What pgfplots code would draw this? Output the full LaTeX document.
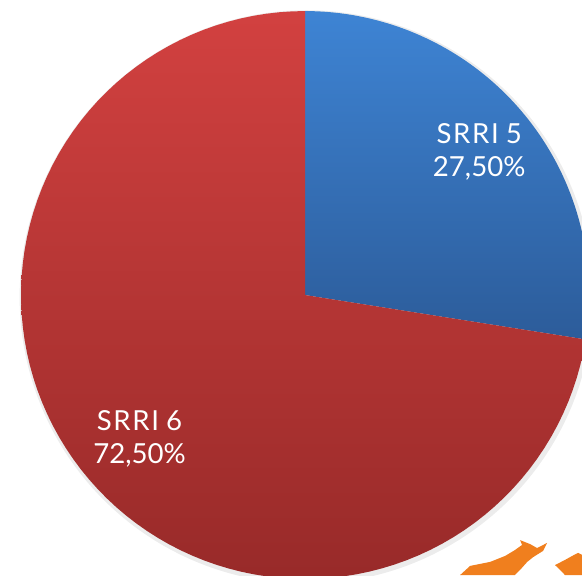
\documentclass[border=0pt]{standalone}
\usepackage{pgfplots}
\pgfplotsset{compat=1.18}
\usepackage{fontspec}
\setmainfont{Lato}
\definecolor{blueT}{HTML}{3E84D4}
\definecolor{blueB}{HTML}{2C5C9A}
\definecolor{redT}{HTML}{D24140}
\definecolor{redB}{HTML}{982A29}
\definecolor{bullOrange}{HTML}{F07F1E}
% pie values (percent)
\def\pA{27.5}% SRRI 5
\def\pB{72.5}% SRRI 6
\begin{document}
\begin{tikzpicture}
\begin{axis}[hide axis, scale only axis, width=291pt, height=287.5pt,
  xmin=-1.074, xmax=0.975, ymin=-0.986, ymax=1.039, clip=true]
% soft shadow
\addplot[fill=black!30, draw=none, opacity=0.25, samples at={0,2,...,360}]
  ({1.010*cos(x)+0.005},{1.010*sin(x)-0.007});
% SRRI 5 wedge
\addplot[draw=none, top color=blueT, bottom color=blueB, samples at={0,1,...,101}]
  ({(x<=100)*cos(90-3.6*\pA*x/100)},{(x<=100)*sin(90-3.6*\pA*x/100)});
% SRRI 6 wedge
\addplot[draw=none, top color=redT, bottom color=redB, samples at={0,1,...,101}]
  ({(x<=100)*cos(90-3.6*\pA-3.6*\pB*x/100)},{(x<=100)*sin(90-3.6*\pA-3.6*\pB*x/100)});
% logo (bull and bear)
\addplot[fill=bullOrange, draw=none] coordinates {(0.546,-0.986) (0.581,-0.954) (0.651,-0.940) (0.704,-0.919) (0.739,-0.898) (0.764,-0.880) (0.757,-0.863) (0.792,-0.877) (0.817,-0.891) (0.852,-0.873) (0.838,-0.901) (0.803,-0.923) (0.782,-0.940) (0.757,-0.968) (0.739,-0.986)};
\addplot[fill=bullOrange, draw=none] coordinates {(0.880,-0.951) (0.915,-0.933) (0.940,-0.919) (0.961,-0.908) (0.975,-0.915) (0.975,-0.986) (0.915,-0.986) (0.898,-0.968)};
% labels
\node[white, align=center, font=\fontsize{13.8}{16.5}\selectfont] at (axis cs:0.613,0.505) {S\kern0.06em R\kern0.06em R\kern0.06em I 5\\27,50\%};
\node[white, align=center, font=\fontsize{13.8}{16.5}\selectfont] at (axis cs:-0.583,-0.508) {S\kern0.06em R\kern0.06em R\kern0.06em I 6\\72,50\%};
\end{axis}
\pgfresetboundingbox
\path (current axis.south west) rectangle (current axis.north east);
\end{tikzpicture}
\end{document}
